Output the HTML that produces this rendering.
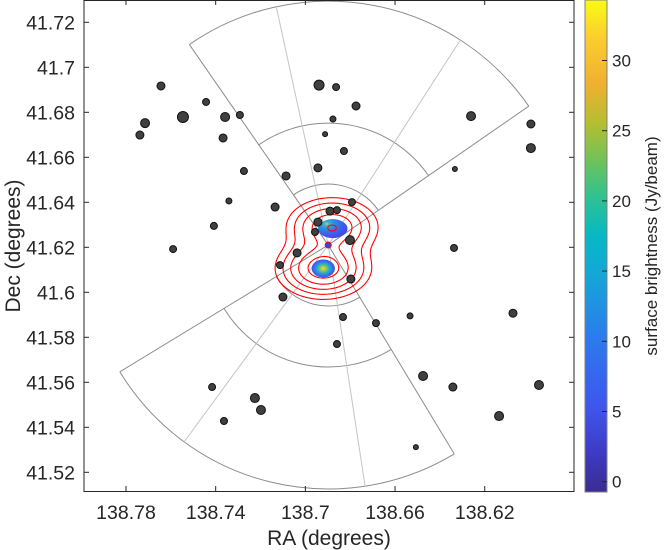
<!DOCTYPE html>
<html><head><meta charset="utf-8"><style>
body{margin:0;background:#fff;}
svg{display:block;font-family:"Liberation Sans",Arial,sans-serif;}
</style></head><body>
<svg id="chart" width="664" height="550" viewBox="0 0 664 550">
<defs>
<clipPath id="plotclip"><rect x="84" y="0" width="490" height="491"/></clipPath>
<linearGradient id="parula" x1="0" y1="1" x2="0" y2="0">
<stop offset="0" stop-color="#3a2c92"/><stop offset="0.08" stop-color="#3e3bc4"/>
<stop offset="0.17" stop-color="#3f55ee"/><stop offset="0.3" stop-color="#2d78ee"/>
<stop offset="0.44" stop-color="#15a6d8"/><stop offset="0.52" stop-color="#06b8c4"/>
<stop offset="0.6" stop-color="#2fc290"/><stop offset="0.67" stop-color="#6cc25c"/>
<stop offset="0.75" stop-color="#b5be30"/><stop offset="0.83" stop-color="#f0b030"/>
<stop offset="0.92" stop-color="#fbcc30"/><stop offset="1" stop-color="#f9fb14"/>
</linearGradient>
<radialGradient id="blobgrad" cx="0.5" cy="0.5" r="0.55">
<stop offset="0" stop-color="#f9e020"/><stop offset="0.25" stop-color="#8cc460"/>
<stop offset="0.5" stop-color="#20a8d8"/><stop offset="0.8" stop-color="#3f60ee"/>
<stop offset="1" stop-color="#4a4ae8"/></radialGradient>
<radialGradient id="blobgrad2" cx="0.3" cy="0.25" r="0.75">
<stop offset="0" stop-color="#e8d830"/><stop offset="0.1" stop-color="#40b8c0"/>
<stop offset="0.35" stop-color="#2a8ee6"/><stop offset="0.7" stop-color="#3c60ee"/>
<stop offset="1" stop-color="#4848e6"/></radialGradient>
</defs>
<rect x="0" y="0" width="664" height="550" fill="#fff"/>
<g id="wedges" clip-path="url(#plotclip)"></g>
<g id="blobs"></g>
<g id="contours"></g>
<g id="dots"></g>
<g id="axes"></g>
<text x="329" y="545" font-size="21" text-anchor="middle" fill="#262626">RA (degrees)</text>
<text transform="translate(20,246) rotate(-90)" font-size="21" text-anchor="middle" fill="#262626">Dec (degrees)</text>
<rect x="585" y="0" width="22" height="492" fill="url(#parula)" stroke="#808080" stroke-width="1"/>
<g id="cbar"></g>
<text transform="translate(657,246) rotate(-90)" font-size="17" text-anchor="middle" fill="#262626">surface brightness (Jy/beam)</text>
</svg>
<script>
const xTicks=[138.78,138.74,138.7,138.66,138.62];
const xTickLabels=["138.78","138.74","138.7","138.66","138.62"];
const yTicks=[41.52,41.54,41.56,41.58,41.6,41.62,41.64,41.66,41.68,41.7,41.72];
const yTickLabels=["41.52","41.54","41.56","41.58","41.6","41.62","41.64","41.66","41.68","41.7","41.72"];
const cTicks=[0,5,10,15,20,25,30];
const cTickLabels=["0","5","10","15","20","25","30"];
const dotRA=[138.7644,138.7443,138.7715,138.7738,138.7546,138.7358,138.7292,138.7367,138.7274,138.7086,138.6944,138.6939,138.7341,138.7135,138.7408,138.7590,138.6912,138.6890,138.6859,138.6944,138.6957,138.6863,138.6774,138.6877,138.6828,138.6261,138.5994,138.5994,138.6333,138.6792,138.6801,138.6337,138.7037,138.7113,138.6797,138.7100,138.6832,138.6685,138.6533,138.6859,138.6475,138.6342,138.7416,138.7225,138.7198,138.7363,138.6507,138.6074,138.5958,138.6136];
const dotDec=[41.6917,41.6846,41.6752,41.6699,41.6779,41.6779,41.6788,41.6686,41.6539,41.6517,41.6553,41.6921,41.6406,41.6379,41.6295,41.6192,41.6703,41.6361,41.6365,41.6312,41.6268,41.6912,41.6828,41.6770,41.6628,41.6783,41.6748,41.6641,41.6548,41.6401,41.6232,41.6197,41.6175,41.6121,41.6059,41.5979,41.5890,41.5863,41.5895,41.5770,41.5628,41.5579,41.5579,41.5530,41.5477,41.5428,41.5312,41.5907,41.5588,41.5450];
const dotSize=[4,3.5,4.5,4,5.5,4.5,3.5,4,3.5,4,4,5,3,4,3.5,3.5,2.5,4,3.5,4,3.5,3.5,4,3,3.5,4.5,4,4.5,2.5,3.5,4.5,3.5,4,3.5,4,4,3.5,3.5,3,3.5,4.5,4,3.5,4.5,4.5,3.5,2.5,4,4.5,4.5];
const centerRA=138.6898, centerDec=41.621;
const ringRadii=[0.0271,0.0542,0.1084];
const upperEdges=[34.7,124.7], upperDividers=[57.2,102.3];
const lowerEdges=[211.3,301.1], lowerDividers=[233.8,278.7];
const lobeRA=[138.6880,138.6920], lobeDec=[41.6290,41.6106], lobeAmp=[0.8,1.0];
const lobeSigRA=0.0100, lobeSigDec=0.0064;
const contourLevels=[0.1,0.2,0.35,0.55,0.8];
const blobRA=[138.6878,138.6920], blobDec=[41.6283,41.6106], blobRxDeg=[0.0066,0.0052], blobRyDeg=[0.0042,0.0040];

const NS='http://www.w3.org/2000/svg';
const xScale=ra=>126+(138.78-ra)*2242;
const yScale=d=>22.3+(41.72-d)*2250;
const cScale=v=>481.7-v*14.04;
const dPix=r=>r*2250;
function mk(tag,attrs,parent){const e=document.createElementNS(NS,tag);for(const k in attrs)e.setAttribute(k,attrs[k]);parent.appendChild(e);return e;}

const W=document.getElementById('wedges');
const cx=xScale(centerRA), cy=yScale(centerDec);
function pt(r,a){const t=a*Math.PI/180;return [cx+r*Math.cos(t), cy-r*Math.sin(t)];}
function sector(edges,divs,nm){
  const rO=dPix(ringRadii[2]);
  ringRadii.forEach((rr,i)=>{const r=dPix(rr);const p1=pt(r,edges[0]),p2=pt(r,edges[1]);
    const a=mk('path',{d:`M${p1[0]},${p1[1]} A${r},${r} 0 0 0 ${p2[0]},${p2[1]}`,fill:'none',stroke:'#8c8c8c','stroke-width':1},W);
    
    });
  divs.forEach((ang,i)=>{const p=pt(rO,ang);const l=mk('line',{x1:cx,y1:cy,x2:p[0],y2:p[1],stroke:'#c4c4c4','stroke-width':1},W);
    
    });
  edges.forEach((ang,i)=>{const p=pt(rO,ang);const l=mk('line',{x1:cx,y1:cy,x2:p[0],y2:p[1],stroke:'#8c8c8c','stroke-width':1},W);
    
    });
}
sector(upperEdges,upperDividers,'upper-sector');
sector(lowerEdges,lowerDividers,'lower-sector');

const B=document.getElementById('blobs');
blobRA.forEach((ra,i)=>{
  const e=mk('ellipse',{cx:xScale(ra),cy:yScale(blobDec[i]),rx:blobRxDeg[i]*2242,ry:dPix(blobRyDeg[i]),fill:i==0?'url(#blobgrad2)':'url(#blobgrad)'},B);
  
  
});
const cd=mk('circle',{cx:cx,cy:cy,r:3,fill:'#4040e0',stroke:'#ff0000','stroke-width':1},B);



const C=document.getElementById('contours');
function field(px,py){let f=0;for(let i=0;i<lobeRA.length;i++){const dx=(px-xScale(lobeRA[i]))/(lobeSigRA*2242),dy=(py-yScale(lobeDec[i]))/dPix(lobeSigDec);f+=lobeAmp[i]*Math.exp(-(dx*dx+dy*dy)/2);}return f;}
const gx0=230,gx1=420,gy0=160,gy1=340,st=2;
const nx=(gx1-gx0)/st, ny=(gy1-gy0)/st;
const F=[];for(let j=0;j<=ny;j++){F.push([]);for(let i=0;i<=nx;i++)F[j].push(field(gx0+i*st,gy0+j*st));}
contourLevels.forEach((L,li)=>{
  let d='';
  for(let j=0;j<ny;j++)for(let i=0;i<nx;i++){
    const x=gx0+i*st,y=gy0+j*st;
    const v=[F[j][i],F[j][i+1],F[j+1][i+1],F[j+1][i]];
    const P=[[x,y],[x+st,y],[x+st,y+st],[x,y+st]];
    const pts=[];
    for(let k=0;k<4;k++){const a=v[k],b=v[(k+1)%4];if((a-L)*(b-L)<0){const t=(L-a)/(b-a);const pa=P[k],pb=P[(k+1)%4];pts.push([pa[0]+t*(pb[0]-pa[0]),pa[1]+t*(pb[1]-pa[1])]);}}
    for(let k=0;k+1<pts.length;k+=2)d+=`M${pts[k][0].toFixed(2)},${pts[k][1].toFixed(2)}L${pts[k+1][0].toFixed(2)},${pts[k+1][1].toFixed(2)}`;
  }
  const p=mk('path',{d:d,fill:'none',stroke:'#ff0000','stroke-width':1.1},C);
  
  
});

const D=document.getElementById('dots');
dotRA.forEach((ra,i)=>{
  const c=mk('circle',{cx:xScale(ra),cy:yScale(dotDec[i]),r:dotSize[i],fill:'#404040',stroke:'#111','stroke-width':1},D);
  
  
});

const A=document.getElementById('axes');
const box=mk('rect',{x:84,y:0.5,width:490,height:491,fill:'none',stroke:'#262626','stroke-width':1},A);


xTicks.forEach((t,i)=>{const x=xScale(t);
  mk('line',{x1:x,y1:491,x2:x,y2:486,stroke:'#262626'},A);
  mk('line',{x1:x,y1:0,x2:x,y2:5,stroke:'#262626'},A);
  const tx=mk('text',{x:x,y:519,'font-size':19.5,'text-anchor':'middle',fill:'#262626'},A);tx.textContent=xTickLabels[i];
  
  });
yTicks.forEach((t,i)=>{const y=yScale(t);
  mk('line',{x1:84,y1:y,x2:89,y2:y,stroke:'#262626'},A);
  mk('line',{x1:574,y1:y,x2:569,y2:y,stroke:'#262626'},A);
  const tx=mk('text',{x:75,y:y+7,'font-size':19.5,'text-anchor':'end',fill:'#262626'},A);tx.textContent=yTickLabels[i];
  
  });
const CB=document.getElementById('cbar');
cTicks.forEach((t,i)=>{const y=cScale(t);
  mk('line',{x1:602,y1:y,x2:607,y2:y,stroke:'#262626'},CB);
  const tx=mk('text',{x:612,y:y+6,'font-size':17,fill:'#262626'},CB);tx.textContent=cTickLabels[i];
  
  });
</script>
</body></html>
